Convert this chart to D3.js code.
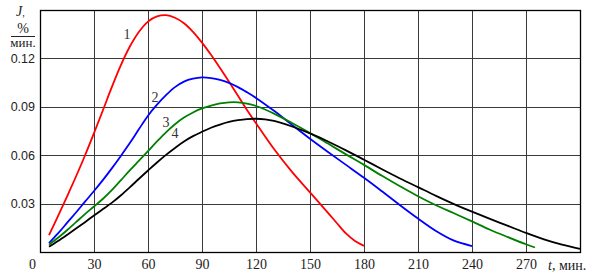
<!DOCTYPE html>
<html>
<head>
<meta charset="utf-8">
<script src="https://cdn.jsdelivr.net/npm/d3@7"></script>
<style>
  body { margin: 0; background: #fff; }
  svg { display: block; }
</style>
</head>
<body>
<div id="chart"></div>
<script>
// curve labels and tick values
var seriesNames = ["1", "2", "3", "4"];
var seriesColors = ["#ff0000", "#0000ff", "#008000", "#000000"];
var xTicks = [0, 30, 60, 90, 120, 150, 180, 210, 240, 270];
var yTicks = [0.03, 0.06, 0.09, 0.12];

// curve 1 (red)
var t1 = [5, 10, 15, 20, 25, 30, 35, 40, 45, 50, 55, 60, 65, 70, 75, 80, 85, 90, 95, 100, 105, 110, 115, 120, 130, 140, 150, 160, 165, 170, 175, 180];
var j1 = [0.0104, 0.0222, 0.0343, 0.0468, 0.0598, 0.0737, 0.0880, 0.1025, 0.1160, 0.1275, 0.1365, 0.1428, 0.1460, 0.1468, 0.1452, 0.1418, 0.1365, 0.1298, 0.1222, 0.1140, 0.1055, 0.0968, 0.0880, 0.0798, 0.0638, 0.0497, 0.0370, 0.0243, 0.0178, 0.0115, 0.0068, 0.0038];

// curve 2 (blue)
var t2 = [5, 10, 15, 20, 25, 30, 35, 40, 45, 50, 55, 60, 65, 70, 75, 80, 85, 90, 95, 100, 105, 110, 115, 120, 130, 140, 150, 160, 170, 180, 190, 200, 210, 220, 230, 240];
var j2 = [0.0055, 0.0115, 0.0180, 0.0245, 0.0312, 0.0378, 0.0447, 0.0520, 0.0597, 0.0677, 0.0762, 0.0845, 0.0913, 0.0972, 0.1022, 0.1056, 0.1074, 0.1082, 0.1078, 0.1067, 0.1048, 0.1022, 0.0990, 0.0955, 0.0875, 0.0788, 0.0702, 0.0620, 0.0540, 0.0460, 0.0376, 0.0290, 0.0207, 0.0130, 0.0070, 0.0037];

// curve 3 (green)
var t3 = [5, 10, 15, 20, 25, 30, 35, 40, 45, 50, 55, 60, 65, 70, 75, 80, 85, 90, 95, 100, 105, 110, 115, 120, 130, 140, 150, 160, 170, 180, 190, 200, 210, 220, 230, 240, 250, 260, 270, 275];
var j3 = [0.0045, 0.0088, 0.0135, 0.0185, 0.0235, 0.0282, 0.0330, 0.0385, 0.0446, 0.0507, 0.0566, 0.0625, 0.0685, 0.0742, 0.0792, 0.0833, 0.0865, 0.0890, 0.0908, 0.0921, 0.0928, 0.0928, 0.0920, 0.0905, 0.0858, 0.0800, 0.0738, 0.0672, 0.0605, 0.0540, 0.0472, 0.0407, 0.0346, 0.0290, 0.0240, 0.0190, 0.0138, 0.0092, 0.0048, 0.0028];

// curve 4 (black)
var t4 = [5, 10, 15, 20, 25, 30, 35, 40, 45, 50, 55, 60, 65, 70, 75, 80, 85, 90, 95, 100, 105, 110, 115, 120, 125, 130, 140, 150, 160, 170, 180, 190, 200, 210, 220, 230, 240, 250, 260, 270, 280, 290, 300];
var j4 = [0.0032, 0.0068, 0.0106, 0.0145, 0.0185, 0.0226, 0.0266, 0.0306, 0.0352, 0.0402, 0.0454, 0.0505, 0.0555, 0.0602, 0.0645, 0.0685, 0.0718, 0.0745, 0.0770, 0.0790, 0.0806, 0.0817, 0.0824, 0.0826, 0.0822, 0.0812, 0.0778, 0.0735, 0.0685, 0.0630, 0.0572, 0.0513, 0.0456, 0.0402, 0.0348, 0.0297, 0.0250, 0.0205, 0.0162, 0.0118, 0.0078, 0.0045, 0.0019];

var w = 598, h = 276;
var plotLeft = 40, plotRight = 580, plotTop = 10, plotBottom = 252;

var svg = d3.select("#chart").append("svg")
    .attr("width", w)
    .attr("height", h);

var x = d3.scaleLinear().domain([0, 300]).range([plotLeft, plotRight]);
var y = d3.scaleLinear().domain([0, 0.15]).range([plotBottom, plotTop]);

// grid lines
svg.append("g")
    .selectAll("line")
    .data(xTicks.filter(function(d) { return d > 0; }))
    .enter().append("line")
    .attr("x1", function(d) { return Math.round(x(d)) + 0.5; })
    .attr("x2", function(d) { return Math.round(x(d)) + 0.5; })
    .attr("y1", plotTop)
    .attr("y2", plotBottom)
    .attr("stroke", "#3a3a3a")
    .attr("stroke-width", 1);

svg.append("g")
    .selectAll("line")
    .data(yTicks)
    .enter().append("line")
    .attr("x1", plotLeft)
    .attr("x2", plotRight)
    .attr("y1", function(d) { return Math.round(y(d)) + 0.5; })
    .attr("y2", function(d) { return Math.round(y(d)) + 0.5; })
    .attr("stroke", "#3a3a3a")
    .attr("stroke-width", 1);

// x axis labels
var xAxis = d3.axisBottom(x).tickValues(xTicks).tickSize(0).tickPadding(7);
var gx = svg.append("g")
    .attr("transform", "translate(0," + plotBottom + ")")
    .call(xAxis);
gx.select(".domain").remove();
gx.selectAll("text")
    .attr("font-family", "'Liberation Serif', 'Times New Roman', serif")
    .attr("font-size", 14)
    .attr("fill", "#222")
    .attr("dx", function(d) { return d === 0 ? -8 : 0; });

// y axis labels
var yAxis = d3.axisLeft(y).tickValues(yTicks).tickSize(0).tickPadding(5)
    .tickFormat(d3.format(".2f"));
var gy = svg.append("g")
    .attr("transform", "translate(" + plotLeft + ",0)")
    .call(yAxis);
gy.select(".domain").remove();
gy.selectAll("text")
    .attr("font-family", "'Liberation Sans', Arial, sans-serif")
    .attr("font-size", 12.5)
    .attr("fill", "#222");

// plot border
svg.append("rect")
    .attr("x", plotLeft + 0.5)
    .attr("y", plotTop + 0.5)
    .attr("width", plotRight - plotLeft)
    .attr("height", plotBottom - plotTop)
    .attr("fill", "none")
    .attr("stroke", "#000")
    .attr("stroke-width", 1.3);

// curves
var series = [[t1, j1], [t2, j2], [t3, j3], [t4, j4]];
var line = d3.line()
    .x(function(d) { return x(d[0]); })
    .y(function(d) { return y(d[1]); })
    .curve(d3.curveCatmullRom.alpha(0.5));

svg.append("g")
    .selectAll("path")
    .data(series)
    .enter().append("path")
    .attr("d", function(s) { return line(d3.zip(s[0], s[1])); })
    .attr("fill", "none")
    .attr("stroke", function(s, i) { return seriesColors[i]; })
    .attr("stroke-width", 1.8)
    .attr("stroke-linejoin", "round");

// curve numbers
var labelAt = [[48.3, 0.135], [63.9, 0.0961], [70, 0.0806], [75, 0.0738]];
svg.append("g")
    .selectAll("text")
    .data(seriesNames)
    .enter().append("text")
    .attr("x", function(d, i) { return x(labelAt[i][0]); })
    .attr("y", function(d, i) { return y(labelAt[i][1]); })
    .attr("dy", "0.35em")
    .attr("text-anchor", "middle")
    .attr("font-family", "'Liberation Serif', 'Times New Roman', serif")
    .attr("font-size", 14)
    .attr("fill", "#333")
    .text(function(d) { return d; });

// axis titles
var serif = "'Liberation Serif', 'Times New Roman', serif";
var jt = svg.append("text")
    .attr("x", 16)
    .attr("y", 16)
    .attr("font-family", serif)
    .attr("font-size", 14)
    .attr("fill", "#222");
jt.append("tspan").attr("font-style", "italic").text("J");
jt.append("tspan").attr("font-size", 10).text(",");

svg.append("text")
    .attr("x", 23)
    .attr("y", 33)
    .attr("text-anchor", "middle")
    .attr("font-family", serif)
    .attr("font-size", 14)
    .attr("fill", "#222")
    .text("%");
svg.append("line")
    .attr("x1", 11).attr("x2", 35)
    .attr("y1", 36.5).attr("y2", 36.5)
    .attr("stroke", "#222")
    .attr("stroke-width", 1);
svg.append("text")
    .attr("x", 23)
    .attr("y", 47)
    .attr("text-anchor", "middle")
    .attr("font-family", serif)
    .attr("font-size", 13)
    .attr("fill", "#222")
    .text("мин.");

var tt = svg.append("text")
    .attr("x", 548)
    .attr("y", 270)
    .attr("font-family", serif)
    .attr("font-size", 14)
    .attr("fill", "#222");
tt.append("tspan").attr("font-style", "italic").text("t");
tt.append("tspan").text(", мин.");
</script>
</body>
</html>
